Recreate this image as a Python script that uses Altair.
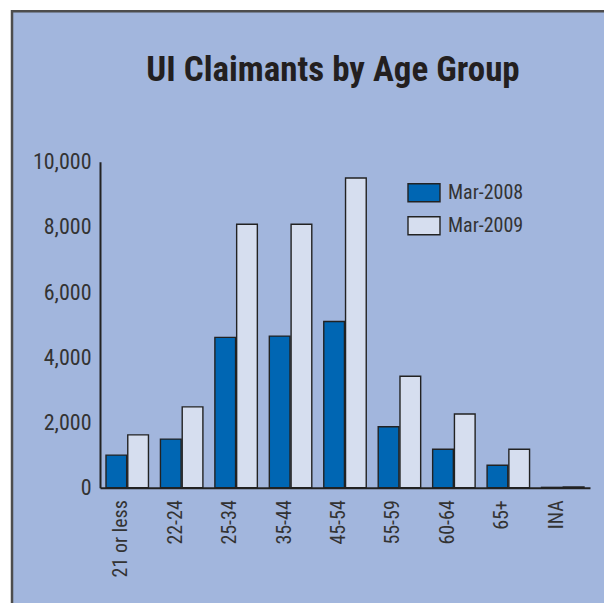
import altair as alt
import pandas as pd

ages = ["21 or less", "22-24", "25-34", "35-44", "45-54", "55-59", "60-64", "65+", "INA"]
mar2008 = [1000, 1490, 4610, 4650, 5100, 1870, 1180, 690, 10]
mar2009 = [1620, 2480, 8080, 8080, 9500, 3420, 2260, 1180, 20]
series = ["Mar-2008", "Mar-2009"]
colors = ["#0066b3", "#d6deef"]
y_ticks = [0, 2000, 4000, 6000, 8000, 10000]

rows = []
for a, v1, v2 in zip(ages, mar2008, mar2009):
    rows.append({"age": a, "series": series[0], "value": v1})
    rows.append({"age": a, "series": series[1], "value": v2})
df = pd.DataFrame(rows)

FONT = "Roboto Condensed, Liberation Sans Narrow, DejaVu Sans Condensed, sans-serif"
BG = "#a2b6dd"

frame = alt.Chart(pd.DataFrame({"k": [0]})).mark_rect(
    fill=BG, stroke="#4d4d4d", strokeWidth=2.5
).encode(
    x=alt.value(-88), x2=alt.value(900), y=alt.value(-150.5), y2=alt.value(900)
)

bars = alt.Chart(df).mark_bar(stroke="#222222", strokeWidth=1.4).encode(
    x=alt.X("age:N", sort=ages, title=None,
            scale=alt.Scale(paddingInner=0.22, paddingOuter=0.11),
            axis=alt.Axis(labelAngle=270, ticks=False, labelPadding=12, labelOffset=-6,
                          domainColor="#222222", domainWidth=2, zindex=1,
                          labelFont=FONT, labelFontSize=20, labelColor="#333333")),
    xOffset=alt.XOffset("series:N", sort=series,
                        scale=alt.Scale(paddingInner=0.05, paddingOuter=0)),
    y=alt.Y("value:Q", title=None,
            scale=alt.Scale(domain=[0, 10000], nice=False),
            axis=alt.Axis(values=y_ticks, format=",.0f", ticks=False, grid=False,
                          labelPadding=9, domainColor="#222222", domainWidth=2, zindex=1,
                          labelFont=FONT, labelFontSize=22, labelColor="#333333")),
    color=alt.Color("series:N", sort=series,
                    scale=alt.Scale(domain=series, range=colors),
                    legend=alt.Legend(title=None, orient="none", legendX=307, legendY=14,
                                      symbolType="M-1,-0.5625H1V0.5625H-1Z",
                                      symbolSize=1024, symbolStrokeColor="#222222",
                                      symbolStrokeWidth=1.4, labelFont=FONT,
                                      labelFontSize=20, labelColor="#333333",
                                      labelOffset=7, rowPadding=4)),
)

chart = alt.layer(frame, bars).properties(
    width=490, height=326,
    autosize=alt.AutoSizeParams(type="none"),
    padding={"left": 92, "top": 153.7, "right": 14, "bottom": 115},
    background="white",
    title=alt.Title("UI Claimants by Age Group", font=FONT, fontSize=35, fontWeight="bold",
                    color="#231f20", anchor="middle", baseline="alphabetic", dx=-12, offset=-106.5),
).configure_view(stroke=None)

chart.save("out.html", embed_options={"renderer": "svg", "actions": False})
